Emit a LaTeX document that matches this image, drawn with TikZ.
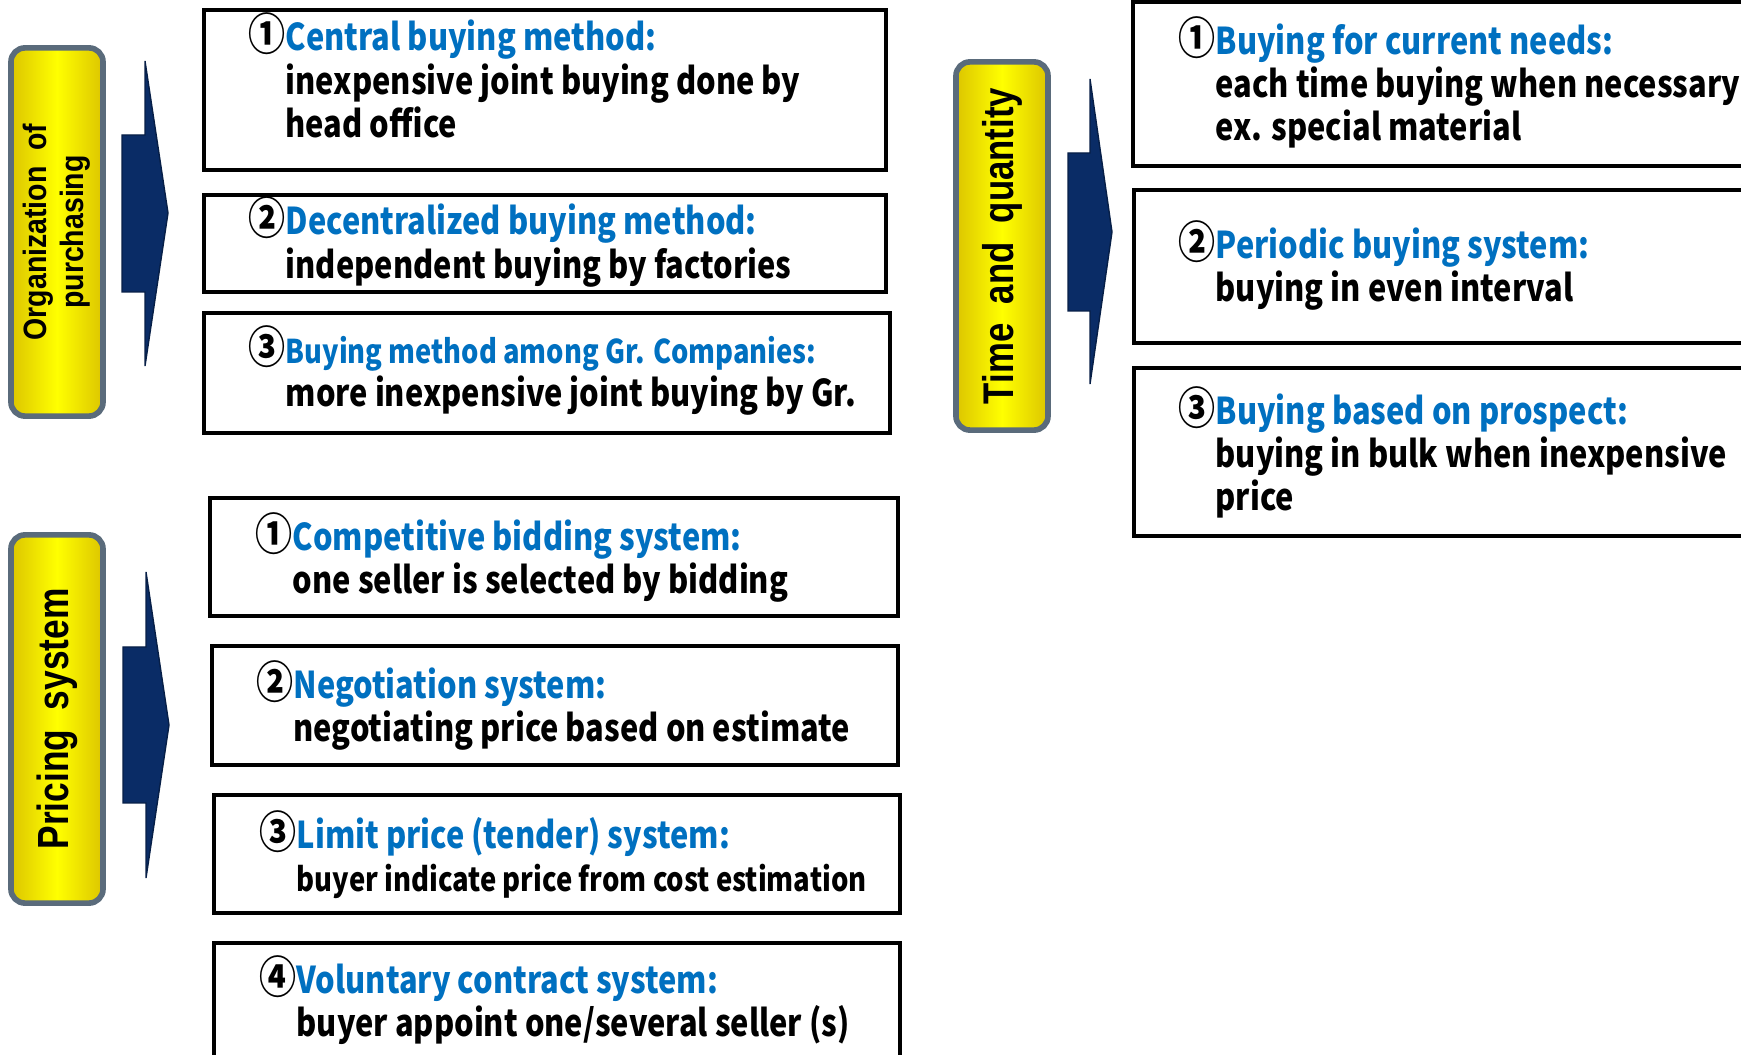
\documentclass[tikz,border=0pt]{standalone}
\usepackage{fontspec}
\usepackage{xcolor}
\newfontfamily\jpfont{Noto Sans CJK JP}[FakeStretch=0.835]
\newfontfamily\lblfont{Liberation Sans}[FakeStretch=0.88]
\newfontfamily\lblnarrow{Liberation Sans}[FakeStretch=0.81]
\definecolor{titleblue}{HTML}{0070C0}
\definecolor{arrownavy}{HTML}{0A2C66}
\definecolor{frameslate}{HTML}{5A6B7B}
\definecolor{goldedge}{HTML}{DCC500}
\newcommand{\cnum}[1]{\smash{\fontsize{12.6}{12.3}\selectfont #1}}
\newcommand{\numgap}{\hphantom{\cnum{①}}}

\tikzset{
	pane/.style={draw=black, line width=1.2pt, fill=white, inner sep=0pt},
	entry/.style={anchor=west, inner sep=0pt, align=left, font=\jpfont\bfseries\fontsize{10.5}{12.3}\selectfont},
	headbox/.style={draw=frameslate, line width=1.6pt, rounded corners=0.14cm, left color=goldedge, right color=goldedge, middle color=yellow, inner sep=0pt, rotate=90, align=center, minimum width=3.68cm, minimum height=0.92cm},
	blockarrow/.style={fill=arrownavy, draw=arrownavy!70!black, line width=0.4pt}
}

\begin{document}
\begin{tikzpicture}[x=0.01cm, y=-0.01cm]
	\useasboundingbox (0,0) rectangle (1741,1055);

	% left: organization of purchasing
	\node[headbox, font=\lblfont\bfseries\fontsize{9.2}{10.5}\selectfont] (org) at (57, 232) {Organization\ \ of\\purchasing};
	\fill[blockarrow] (122,135) -- (145,135) -- (145,61) -- (168,213) -- (145,366) -- (145,292) -- (122,292) -- cycle;

	\node[pane, minimum width=6.82cm, minimum height=1.60cm] (o1) at (545, 90)    {};
	\node[pane, minimum width=6.82cm, minimum height=0.97cm] (o2) at (545, 243.5) {};
	\node[pane, minimum width=6.86cm, minimum height=1.20cm] (o3) at (547, 373)   {};

	\node[entry] (o1t) at (248, 79)    {\cnum{①}\textcolor{titleblue}{Central buying method:}\\\numgap inexpensive joint buying done by\\\numgap head office};
	\node[entry] (o2t) at (248, 245.5) {\cnum{②}\textcolor{titleblue}{Decentralized buying method:}\\\numgap independent buying by factories};
	\node[entry] (o3t) at (248, 376)   {\cnum{③}\textcolor{titleblue}{\fontsize{9.3}{12.3}\selectfont Buying method among Gr. Companies:}\\\numgap more inexpensive joint buying by Gr.};

	% left: pricing system
	\node[headbox, font=\lblnarrow\bfseries\fontsize{12.4}{13}\selectfont] (price) at (57, 719) {Pricing\ \ system};
	\fill[blockarrow] (123,647) -- (146,647) -- (146,572) -- (169,725) -- (146,878) -- (146,803) -- (123,803) -- cycle;

	\node[pane, minimum width=6.88cm, minimum height=1.18cm] (p1) at (554, 557)   {};
	\node[pane, minimum width=6.86cm, minimum height=1.19cm] (p2) at (555, 705.5) {};
	\node[pane, minimum width=6.86cm, minimum height=1.18cm] (p3) at (557, 854)   {};
	\node[pane, minimum width=6.86cm, minimum height=1.32cm] (p4) at (557, 1009)  {};

	\node[entry] (p1t) at (255, 561)    {\cnum{①}\textcolor{titleblue}{Competitive bidding system:}\\\numgap one seller is selected by bidding};
	\node[entry] (p2t) at (256, 709)    {\cnum{②}\textcolor{titleblue}{Negotiation system:}\\\numgap negotiating price based on estimate};
	\node[entry] (p3t) at (259, 858)    {\cnum{③}\textcolor{titleblue}{Limit price (tender) system:}\\\numgap{\fontsize{9.35}{12.3}\selectfont buyer indicate price from cost estimation}};
	\node[entry] (p4t) at (259, 1004.5) {\cnum{④}\textcolor{titleblue}{Voluntary contract system:}\\\numgap buyer appoint one/several seller (s)};

	% right: time and quantity
	\node[headbox, font=\lblnarrow\bfseries\fontsize{12.2}{13}\selectfont] (time) at (1002, 246) {Time\ \ and\ \ quantity};
	\fill[blockarrow] (1068,153) -- (1090,153) -- (1090,79) -- (1112,232) -- (1090,384) -- (1090,311) -- (1068,311) -- cycle;

	\node[pane, minimum width=6.27cm, minimum height=1.64cm] (t1) at (1446.5, 84)  {};
	\node[pane, minimum width=6.26cm, minimum height=1.53cm] (t2) at (1447, 266.5) {};
	\node[pane, minimum width=6.26cm, minimum height=1.68cm] (t3) at (1447, 452)   {};

	\node[entry] (t1t) at (1178, 86)  {\cnum{①}\textcolor{titleblue}{Buying for current needs:}\\\numgap each time buying when necessary\\\numgap ex. special material};
	\node[entry] (t2t) at (1178, 269) {\cnum{②}\textcolor{titleblue}{Periodic buying system:}\\\numgap buying in even interval};
	\node[entry] (t3t) at (1178, 456) {\cnum{③}\textcolor{titleblue}{Buying based on prospect:}\\\numgap buying in bulk when inexpensive\\\numgap price};

\end{tikzpicture}
\end{document}
